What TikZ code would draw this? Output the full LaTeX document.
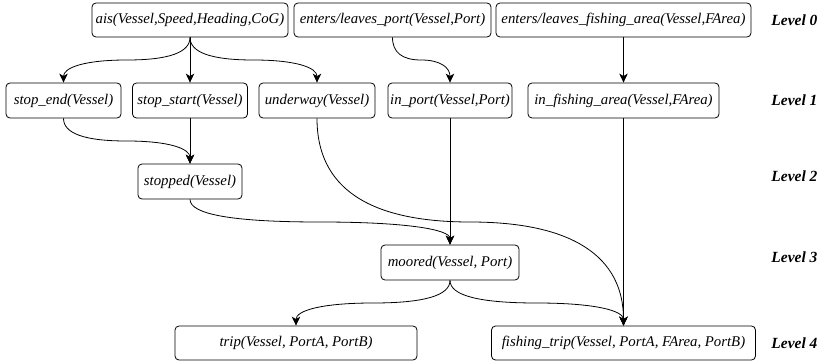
\documentclass[tikz,border=0pt]{standalone}
\usepackage{fontspec}
\setmainfont{Liberation Serif}
\usetikzlibrary{arrows.meta,calc}
\begin{document}
\begin{tikzpicture}[x=1pt,y=-1pt,
  box/.style={draw, line width=0.8pt, rounded corners=4pt, inner sep=0pt,
    minimum height=35pt, font=\fontsize{14.8}{17}\selectfont\itshape},
  lvl/.style={font=\fontsize{15.5}{18}\selectfont\bfseries\itshape, anchor=east},
  arr/.style={line width=0.8pt, -{Stealth[length=9pt,width=8.5pt,inset=2.5pt]}},
  qc/.style={to path={let \p1=(\tikztostart), \p2=(\tikztotarget),
     \p3=($(\tikztostart)!0.5!(\tikztotarget)$) in
     .. controls (\x1,{\y1+2/3*(\y3-\y1)}) and ({\x3+2/3*(\x1-\x3)},\y3) .. (\x3,\y3)
     .. controls ({\x3+2/3*(\x2-\x3)},\y3) and (\x2,{\y2+2/3*(\y3-\y2)}) .. (\tikztotarget)}}
]
\useasboundingbox (0,0) rectangle (825,364);
% Level 0
\node[box, minimum width=196pt, minimum height=34pt] (ais) at (190,20) {ais(Vessel,Speed,Heading,CoG)};
\node[box, minimum width=197pt, minimum height=34pt] (ep) at (392.5,20) {enters/leaves\_port(Vessel,Port)};
\node[box, minimum width=255pt, minimum height=34pt] (ef) at (623.5,20) {enters/leaves\_fishing\_area(Vessel,FArea)};
% Level 1
\node[box, minimum width=115pt] (se) at (63.5,100.5) {stop\_end(Vessel)};
\node[box, minimum width=115pt] (ss) at (190,100.5) {stop\_start(Vessel)};
\node[box, minimum width=116pt] (uw) at (317,100.5) {underway(Vessel)};
\node[box, minimum width=124pt] (ip) at (450,100.5) {in\_port(Vessel,Port)};
\node[box, minimum width=191pt] (ifa) at (623.5,100.5) {in\_fishing\_area(Vessel,FArea)};
% Level 2
\node[box, minimum width=104pt] (st) at (190,181.5) {stopped(Vessel)};
% Level 3
\node[box, minimum width=138pt] (mo) at (450,262.5) {moored(Vessel, Port)};
% Level 4
\node[box, minimum width=242pt, minimum height=34pt] (tr) at (296,343) {trip(Vessel, PortA, PortB)};
\node[box, minimum width=264pt, minimum height=34pt] (ft) at (623.5,343) {fishing\_trip(Vessel, PortA, FArea, PortB)};
% level labels
\node[lvl] (l0) at (821,20) {Level 0};
\node[lvl] (l1) at (821,100.5) {Level 1};
\node[lvl] (l2) at (821,176) {Level 2};
\node[lvl] (l3) at (821,257) {Level 3};
\node[lvl] (l4) at (821,343) {Level 4};
% connectors
\draw[arr] (ais.south) to[qc] (se.north);
\draw[arr] (ais.south) -- (ss.north);
\draw[arr] (ais.south) to[qc] (uw.north);
\draw[arr] (ep.south) to[qc] (ip.north);
\draw[arr] (ef.south) -- (ifa.north);
\draw[arr] (se.south) to[qc] (st.north);
\draw[arr] (ss.south) -- (st.north);
\draw[arr] (uw.south) to[qc] (ft.north);
\draw[arr] (ip.south) -- (mo.north);
\draw[arr] (ifa.south) -- (ft.north);
\draw[arr] (st.south) to[qc] (mo.north);
\draw[arr] (mo.south) to[qc] (tr.north);
\draw[arr] (mo.south) to[qc] (ft.north);
\end{tikzpicture}
\end{document}
